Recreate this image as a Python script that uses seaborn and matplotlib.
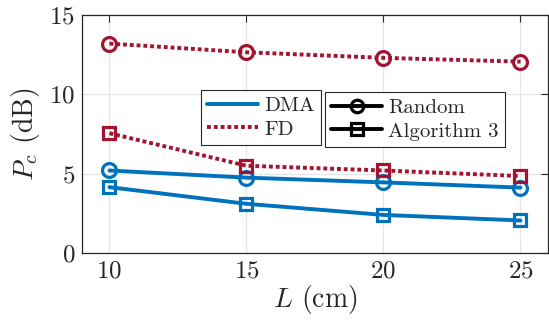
import matplotlib
matplotlib.use("Agg")
import matplotlib.pyplot as plt
from matplotlib.lines import Line2D
import seaborn as sns
import pandas as pd

# Antenna length and received power values
L_cm = [10, 15, 20, 25]
dma_random = [5.2, 4.75, 4.45, 4.12]
dma_alg3 = [4.15, 3.1, 2.4, 2.05]
fd_random = [13.2, 12.65, 12.3, 12.06]
fd_alg3 = [7.55, 5.5, 5.2, 4.85]

x_ticks = [10, 15, 20, 25]
y_ticks = [0, 5, 10, 15]

BLUE = "#0072BD"
RED = "#A2142F"

sns.set_theme(style="whitegrid")
plt.rcParams.update({
    "font.family": "serif",
    "font.serif": ["cmr10"],
    "mathtext.fontset": "cm",
    "axes.formatter.use_mathtext": True,
    "axes.unicode_minus": False,
})

fig = plt.figure(figsize=(5.49, 3.22), dpi=100)
ax = fig.add_axes([0.1494, 0.2143, 0.8486, 0.7391])

LW = 2.8
dotted = (0, (1.0, 0.75))
series = [
    (dma_random, BLUE, "-", "o", 10),
    (dma_alg3, BLUE, "-", "s", 9),
    (fd_random, RED, dotted, "o", 10),
    (fd_alg3, RED, dotted, "s", 9),
]
for vals, col, ls, mk, ms in series:
    df = pd.DataFrame({"L": L_cm, "P": vals})
    sns.lineplot(data=df, x="L", y="P", ax=ax, color=col, linewidth=LW,
                 linestyle=ls, marker=mk, markersize=ms,
                 markerfacecolor="none", markeredgecolor=col,
                 markeredgewidth=2.3, dash_capstyle="butt")
    ax.lines[-1].set_linestyle(ls)

ax.set_xlim(9, 26)
ax.set_ylim(0, 15)
ax.set_xticks(x_ticks)
ax.set_yticks(y_ticks)
ax.set_xlabel("$L$ (cm)", fontsize=20, labelpad=1)
ax.set_ylabel("$P_c$ (dB)", fontsize=20, labelpad=5)
ax.tick_params(axis="both", labelsize=18, direction="in", length=5,
               top=True, right=True, width=0.8, colors="#262626", pad=5)
ax.grid(True, color="#e6e6e6", linewidth=0.9)
for sp in ax.spines.values():
    sp.set_color("#262626")
    sp.set_linewidth(0.9)

leg_kw = dict(loc="upper left", borderaxespad=0, fontsize=15,
              fancybox=False, framealpha=1, edgecolor="#262626",
              handlelength=2.45, handletextpad=0.28, labelspacing=0.25,
              borderpad=0.3)

h1 = [Line2D([], [], color=BLUE, lw=LW, ls="-"),
      Line2D([], [], color=RED, lw=LW, ls=dotted, dash_capstyle="butt")]
leg1 = ax.legend(h1, ["DMA", "FD"], bbox_to_anchor=(0.255, 0.685), **leg_kw)
leg1.get_frame().set_linewidth(0.8)
ax.add_artist(leg1)

h2 = [Line2D([], [], color="black", lw=LW, marker="o", markersize=9,
             markerfacecolor="none", markeredgewidth=2.3),
      Line2D([], [], color="black", lw=LW, marker="s", markersize=8,
             markerfacecolor="none", markeredgewidth=2.3)]
leg2 = ax.legend(h2, ["Random", "Algorithm 3"],
                 bbox_to_anchor=(0.521, 0.676), **leg_kw)
leg2.get_frame().set_linewidth(0.8)

fig.savefig("out.png", dpi=100)
